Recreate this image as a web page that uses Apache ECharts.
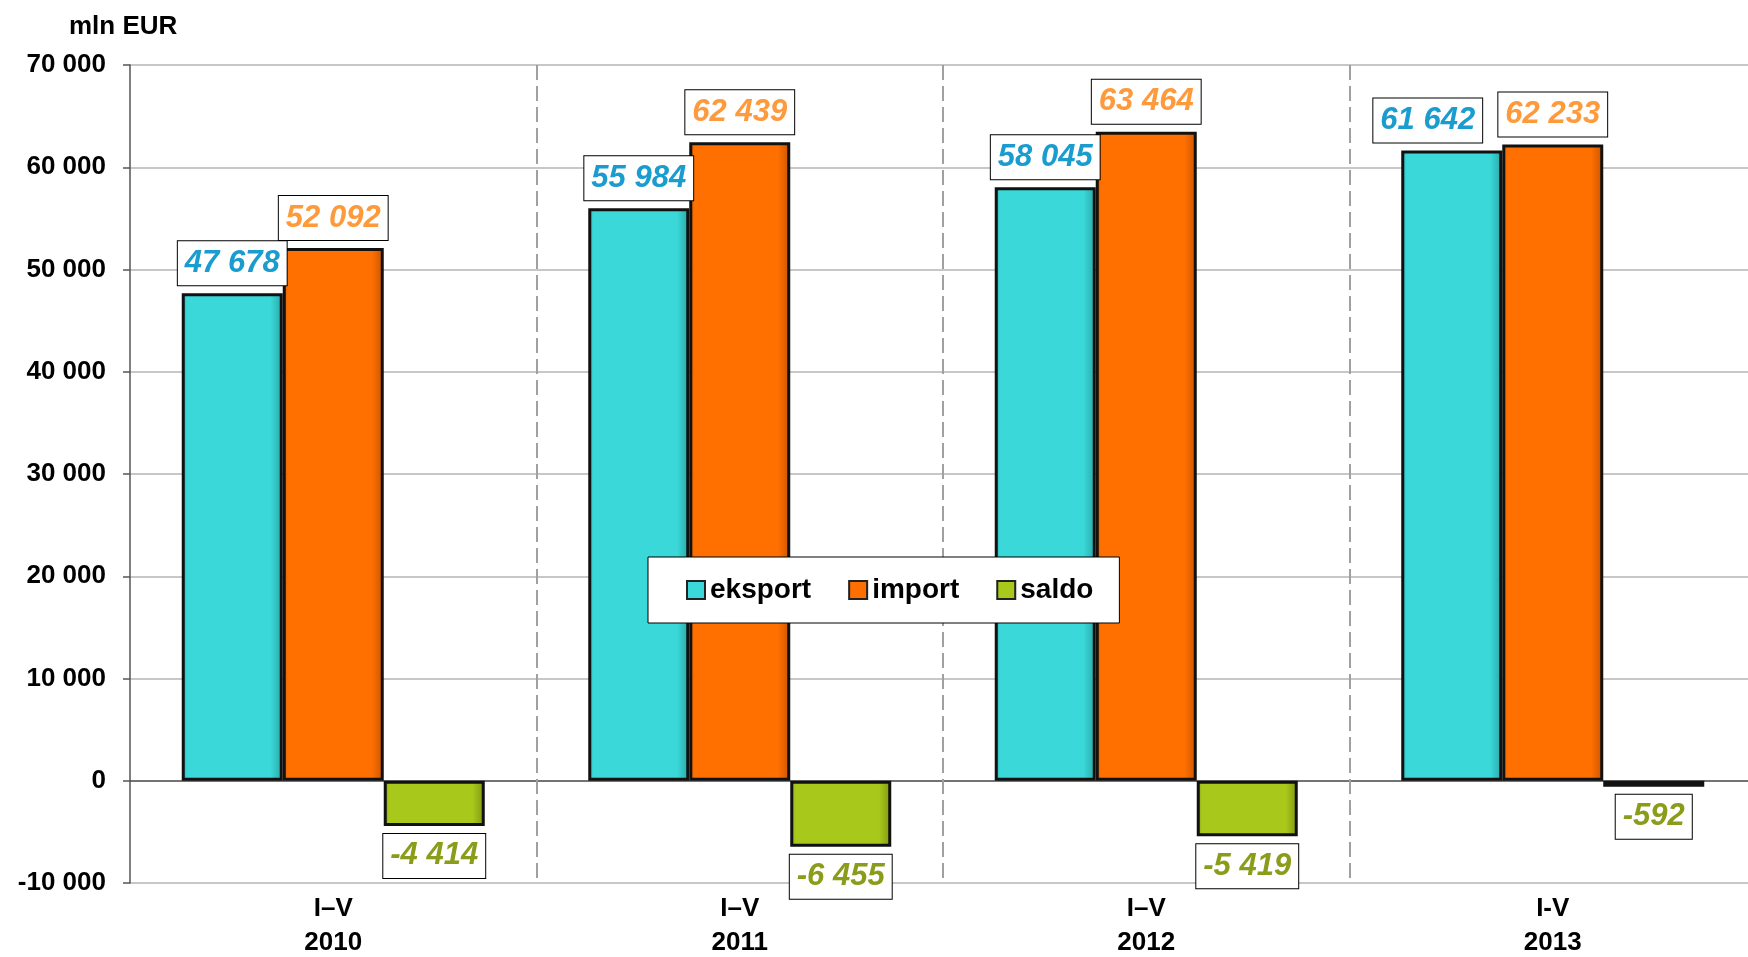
<!DOCTYPE html>
<html>
<head>
<meta charset="utf-8">
<script src="https://cdn.jsdelivr.net/npm/echarts@6/dist/echarts.min.js"></script>
<style>
  html, body { margin: 0; padding: 0; background: #fff; overflow: hidden; }
  #chart { width: 1748px; height: 957px; }
</style>
</head>
<body>
<div id="chart"></div>
<script>
const categories = ['I\u2013V\n2010', 'I\u2013V\n2011', 'I\u2013V\n2012', 'I-V\n2013'];
const eksport = [47678, 55984, 58045, 61642];
const importV = [52092, 62439, 63464, 62233];
const saldo = [-4414, -6455, -5419, -592];
const yTicks = { min: -10000, max: 70000, interval: 10000 };
const unitLabel = 'mln EUR';
const seriesNames = ['eksport', 'import', 'saldo'];

const FONT = "'Liberation Sans', Arial, sans-serif";
function fmt(v) { return String(v).replace(/\B(?=(\d{3})+(?!\d))/g, ' '); }

function labelCfg(color, pos) {
  return {
    show: true,
    position: pos,
    distance: 8,
    formatter: p => fmt(p.value),
    fontFamily: FONT,
    fontSize: 31,
    fontWeight: 'bold',
    fontStyle: 'italic',
    color: color,
    backgroundColor: '#fff',
    borderColor: '#000',
    borderWidth: 1,
    padding: [5, 7, 5, 7],
    lineHeight: 34
  };
}

function bevel(base, dark) {
  return new echarts.graphic.LinearGradient(0, 0, 1, 0, [
    { offset: 0, color: dark },
    { offset: 0.05, color: base },
    { offset: 0.88, color: base },
    { offset: 1, color: dark }
  ]);
}

const chart = echarts.init(document.getElementById('chart'), null, { renderer: 'canvas' });
chart.setOption({
  animation: false,
  backgroundColor: '#fff',
  title: {
    text: unitLabel,
    left: 64, top: 9,
    textStyle: { fontFamily: FONT, fontSize: 26, fontWeight: 'bold', color: '#000' }
  },
  legend: {
    data: seriesNames,
    left: 648, top: 557,
    orient: 'horizontal',
    backgroundColor: '#fff',
    borderColor: '#000',
    borderWidth: 1,
    padding: [19, 26, 19, 38],
    itemWidth: 18, itemHeight: 18,
    itemGap: 37,
    icon: 'rect',
    itemStyle: { borderWidth: 2, borderColor: '#222' },
    textStyle: { fontFamily: FONT, fontSize: 28, fontWeight: 'bold', color: '#000' },
    z: 10
  },
  grid: { left: 130, right: -8, top: 65, bottom: 74, containLabel: false, outerBoundsMode: 'none' },
  xAxis: {
    type: 'category',
    data: categories,
    axisLine: { show: false, onZero: false },
    axisTick: { show: false },
    axisLabel: {
      margin: 9,
      fontFamily: FONT, fontSize: 26, fontWeight: 'bold', color: '#000', lineHeight: 34
    },
    splitLine: {
      show: true,
      interval: 0,
      showMinLine: false,
      lineStyle: { color: '#a0a0a0', width: 2, type: [15, 6] }
    }
  },
  yAxis: {
    type: 'value',
    min: yTicks.min, max: yTicks.max, interval: yTicks.interval,
    axisLine: { show: true, lineStyle: { color: '#555', width: 1.5 } },
    axisTick: { show: true, length: 7, lineStyle: { color: '#555', width: 1.5 } },
    axisLabel: {
      margin: 24,
      formatter: v => fmt(v),
      fontFamily: FONT, fontSize: 26, fontWeight: 'bold', color: '#000'
    },
    splitLine: {
      show: true,
      lineStyle: {
        color: ['#b4b4b4', '#444', '#b4b4b4', '#b4b4b4', '#b4b4b4', '#b4b4b4', '#b4b4b4', '#b4b4b4', '#b4b4b4'],
        width: 1.5
      }
    }
  },
  series: [
    {
      name: seriesNames[0], type: 'bar', data: eksport,
      barWidth: 101, barGap: '0%',
      itemStyle: { color: bevel('#3ad8d8', '#2aa6a6'), borderColor: '#111', borderWidth: 3 },
      label: labelCfg('#1a9ccf', 'top'),
      labelLayout: p => (p.dataIndex === 3 ? { dx: -24, hideOverlap: false } : { hideOverlap: false })
    },
    {
      name: seriesNames[1], type: 'bar', data: importV,
      barWidth: 101, barGap: '0%',
      itemStyle: { color: bevel('#ff7000', '#c85400'), borderColor: '#111', borderWidth: 3 },
      label: labelCfg('#ff9a3c', 'top'),
      labelLayout: { hideOverlap: false }
    },
    {
      name: seriesNames[2], type: 'bar', data: saldo,
      barWidth: 101, barGap: '0%',
      itemStyle: { color: bevel('#a8c81c', '#7e9612'), borderColor: '#111', borderWidth: 3 },
      label: labelCfg('#8a9c1a', 'bottom'),
      labelLayout: { hideOverlap: false }
    }
  ]
});
</script>
</body>
</html>
